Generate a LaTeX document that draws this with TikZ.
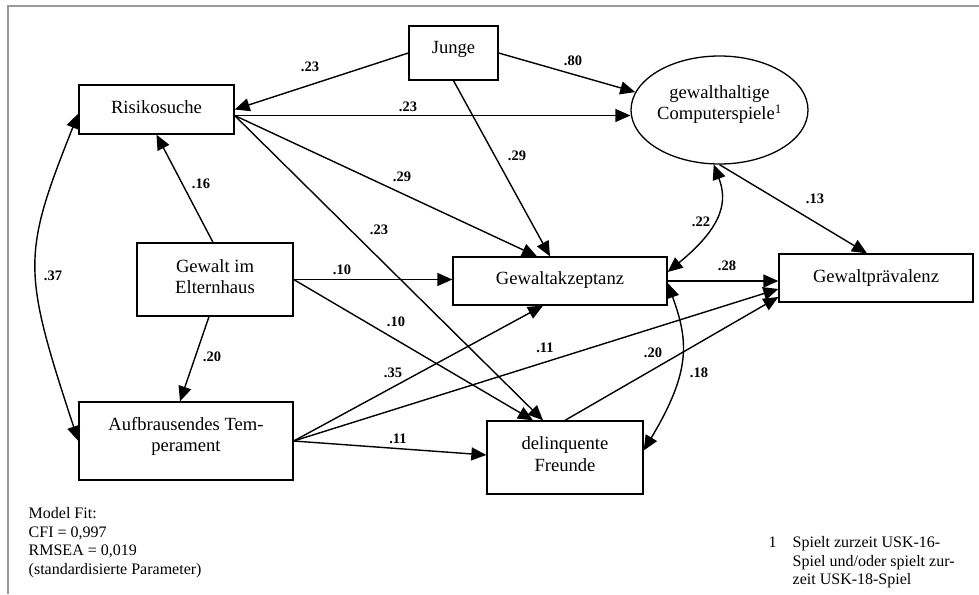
\documentclass[tikz,border=0pt]{standalone}
\usepackage{fontspec}
\setmainfont{Liberation Serif}
\usetikzlibrary{shapes,arrows.meta}
\tikzset{
	var/.style    = {draw, line width=1.3pt, rectangle, inner sep=0pt, font=\boxfont},
	latent/.style = {draw, line width=1.3pt, ellipse, inner sep=0pt, font=\boxfont},
	coef/.style   = {inner sep=1pt, font=\coeffont},
	note/.style   = {inner sep=0pt, anchor=north west, align=left, font=\notefont},
	frame/.style  = {draw=black!40, line width=1.5pt}
}
\newcommand{\boxfont}{\fontsize{18.6}{21.5}\selectfont}
\newcommand{\coeffont}{\fontsize{14.5}{17}\selectfont\bfseries}
\newcommand{\notefont}{\fontsize{16}{18.4}\selectfont}
\newcommand{\lift}[2][0pt]{\raisebox{#1}[\height][\depth]{\begin{tabular}{@{}c@{}}#2\end{tabular}}}

\begin{document}
\begin{tikzpicture}[auto, x=1pt, y=-1pt, line width=1.4pt, >={Triangle[length=15pt,width=13pt]}]
	\useasboundingbox (0,0) rectangle (979,594);
	\draw[frame] (979,6) -- (8,6) -- (8,594);
	\draw
	% Drawing the variables
	node at (453.5,53) [var, minimum width=89pt, minimum height=54pt] (junge) {\lift[4pt]{Junge}}
	node at (156.5,109.5) [var, minimum width=155pt, minimum height=49pt] (risk) {\lift{Risikosuche}}
	node at (719.5,110) [latent, minimum width=177pt, minimum height=108pt] (games) {\lift[5.5pt]{gewalthaltige\\Computerspiele\textsuperscript{1}}}
	node at (215,279.5) [var, minimum width=156pt, minimum height=73pt] (gewalt) {\lift[1pt]{Gewalt im\\Elternhaus}}
	node at (560,281) [var, minimum width=214pt, minimum height=48pt] (akz) {\lift[1pt]{Gewaltakzeptanz}}
	node at (876,278) [var, minimum width=194pt, minimum height=48pt] (praev) {\lift{Gewaltprävalenz}}
	node at (186,441) [var, minimum width=214pt, minimum height=78pt] (temp) {\lift[4.5pt]{Aufbrausendes Tem-\\perament}}
	node at (565,457.5) [var, minimum width=156pt, minimum height=73pt] (freunde) {\lift[1.5pt]{delinquente\\Freunde}};
	
	\coordinate (riskout) at ([yshift=-6pt]risk.east);
	
	% paths
	\draw[->] (junge.west) -- (risk.east);
	\draw[->] (junge.east) -- (games.168);
	\draw[->] (junge.south) -- ([xshift=-10pt]akz.north);
	\draw[->] (riskout) -- (riskout -| games.west);
	\draw[->] (riskout) -- ([xshift=-23pt]akz.north);
	\draw[->] (riskout) -- ([xshift=-22pt]freunde.north);
	\draw[->] ([xshift=-2pt]gewalt.north) -- (risk.south);
	\draw[->] (gewalt.east) -- (gewalt.east -| akz.west);
	\draw[->] (gewalt.east) -- ([xshift=-32pt]freunde.north);
	\draw[->] ([xshift=-6pt]gewalt.south) -- ([xshift=-6pt]temp.north);
	\draw[->] (temp.east) -- ([xshift=-17pt]akz.south);
	\draw[->] (temp.east) -- ([yshift=-11pt]praev.west);
	\draw[->] (temp.east) -- ([yshift=2.5pt]freunde.west);
	\draw[->] (freunde.north) -- ([yshift=-19pt]praev.west);
	\draw[->] (akz.east) -- (akz.east -| praev.west);
	\draw[->] (games.south) -- ([xshift=-9pt]praev.north);
	
	% correlations
	\draw[<->] ([yshift=-4pt]risk.west) .. controls (22,255) and (22,270) .. (temp.west);
	\draw[<->] (games.264) .. controls (727,200) and (725,225) .. ([yshift=9pt]akz.east);
	\draw[<->] ([yshift=-2pt]akz.east) .. controls (688,340) and (692,370) .. ([yshift=7pt]freunde.east);
	
	% coefficients
	\draw
	node at (310,67) [coef] (b1) {.23}
	node at (573,61) [coef] (b2) {.80}
	node at (517,156) [coef] (b3) {.29}
	node at (408,107) [coef] (b4) {.23}
	node at (402,177) [coef] (b5) {.29}
	node at (379,230) [coef] (b6) {.23}
	node at (201,184) [coef] (b7) {.16}
	node at (342,270) [coef] (b8) {.10}
	node at (396,322) [coef] (b9) {.10}
	node at (212,357) [coef] (b10) {.20}
	node at (393,373) [coef] (b11) {.35}
	node at (545,348) [coef] (b12) {.11}
	node at (398,439) [coef] (b13) {.11}
	node at (653,353) [coef] (b14) {.20}
	node at (727,266) [coef] (b15) {.28}
	node at (815,199) [coef] (b16) {.13}
	node at (701,222) [coef] (r1) {.22}
	node at (699,373) [coef] (r2) {.18}
	node at (53,276) [coef] (r3) {.37};
	
	% notes
	\draw
	node at (28,507) [note] (fit) {Model Fit:\\CFI = 0,997\\RMSEA = 0,019\\(standardisierte Parameter)}
	node at (768,536) [note] (fnmark) {1}
	node at (792,536) [note] (fntext) {Spielt zurzeit USK-16-\\Spiel und/oder spielt zur-\\zeit USK-18-Spiel};
\end{tikzpicture}
\end{document}
